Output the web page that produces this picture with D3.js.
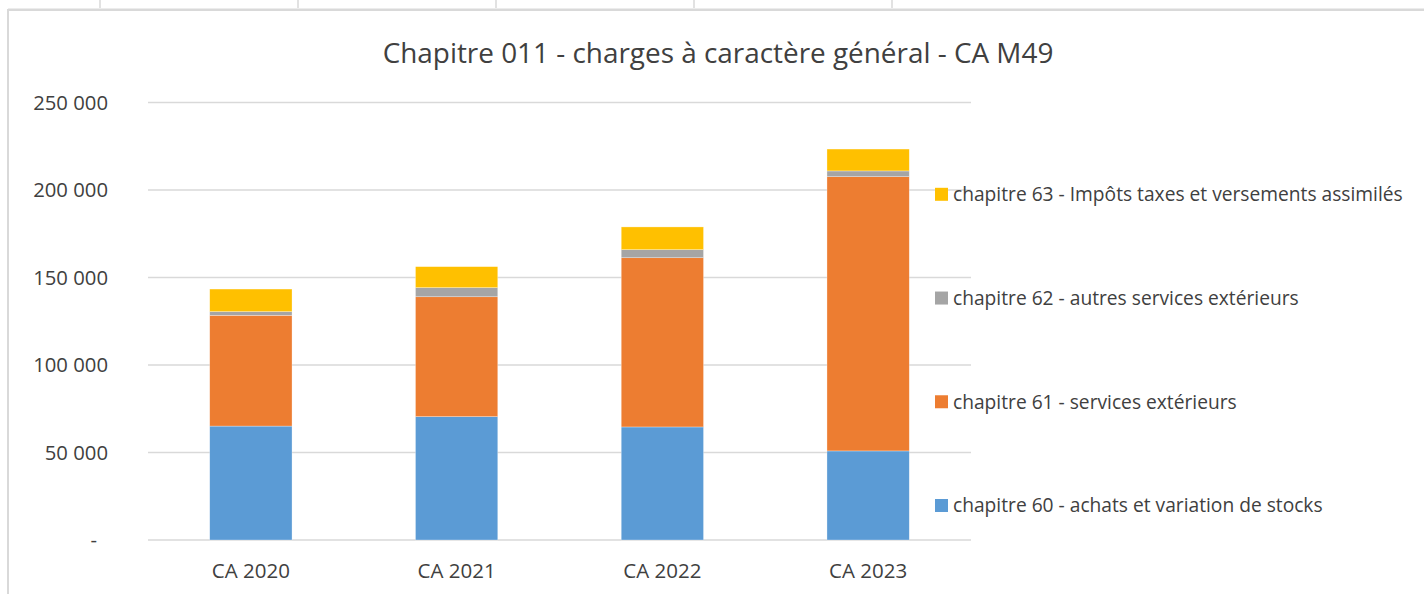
<!DOCTYPE html>
<html>
<head>
<meta charset="utf-8">
<script src="https://cdn.jsdelivr.net/npm/d3@7"></script>
<style>
  body { margin: 0; background: #fff; }
  svg { display: block; font-family: "Open Sans", sans-serif; }
</style>
</head>
<body>
<svg id="chart" width="1424" height="594"></svg>
<script>

// data
var categories = ["CA 2020", "CA 2021", "CA 2022", "CA 2023"];
var ch60 = [65100, 70500, 64600, 50900];
var ch61 = [63300, 68500, 96700, 156700];
var ch62 = [2100, 5200, 4600, 3300];
var ch63 = [12900, 12000, 13000, 12500];
var seriesNames = ["chapitre 60 - achats et variation de stocks",
                   "chapitre 61 - services extérieurs",
                   "chapitre 62 - autres services extérieurs",
                   "chapitre 63 - Impôts taxes et versements assimilés"];
var seriesColors = ["#5b9bd5", "#ed7d31", "#a5a5a5", "#ffc000"];
var yTicks = [0, 50000, 100000, 150000, 200000, 250000];
var title = "Chapitre 011 - charges à caractère général - CA M49";

var svg = d3.select("#chart"),
    width = +svg.attr("width"),
    height = +svg.attr("height"),
    plot = {left: 148, right: 971, top: 102.5, bottom: 540},
    textColor = "#404040",
    gridColor = "#d9d9d9";

// spreadsheet cell lines behind the chart
var sheet = svg.append("g").attr("stroke", gridColor);
sheet.selectAll("line.col")
    .data([100, 298, 496, 694, 892])
  .enter().append("line")
    .attr("x1", function(d) { return d; })
    .attr("x2", function(d) { return d; })
    .attr("y1", 0).attr("y2", 8)
    .attr("stroke-width", 1.5);
sheet.append("line")
    .attr("x1", 8).attr("x2", width)
    .attr("y1", 9.8).attr("y2", 9.8)
    .attr("stroke-width", 2.5);
sheet.append("line")
    .attr("x1", 8).attr("x2", 8)
    .attr("y1", 9).attr("y2", height)
    .attr("stroke-width", 2);

// build table for stack
var table = categories.map(function(c, i) {
  return {cat: c, s0: ch60[i], s1: ch61[i], s2: ch62[i], s3: ch63[i]};
});
var keys = ["s0", "s1", "s2", "s3"];
var stacked = d3.stack().keys(keys)(table);

var x = d3.scaleBand()
    .domain(categories)
    .range([plot.left, plot.right])
    .paddingInner(0.6)
    .paddingOuter(0.3);

var y = d3.scaleLinear()
    .domain([0, 250000])
    .range([plot.bottom, plot.top]);

var color = d3.scaleOrdinal().domain(keys).range(seriesColors);

// gridlines
svg.append("g")
  .selectAll("line")
  .data(yTicks)
  .enter().append("line")
    .attr("x1", plot.left)
    .attr("x2", plot.right)
    .attr("y1", function(d) { return y(d); })
    .attr("y2", function(d) { return y(d); })
    .attr("stroke", gridColor)
    .attr("stroke-width", 1.5);

// y labels, accounting style (zero shown as a dash)
var fmt = function(d) {
  return d3.format(",")(d).replace(/,/g, " ");
};
svg.append("g")
    .attr("font-size", 20.3)
    .attr("fill", textColor)
    .attr("text-anchor", "end")
  .selectAll("text")
  .data(yTicks)
  .enter().append("text")
    .attr("x", function(d) { return d === 0 ? 97 : 108; })
    .attr("y", function(d) { return y(d); })
    .attr("dy", "0.36em")
    .text(function(d) { return d === 0 ? "-" : fmt(d); });

// stacked bars
svg.append("g")
  .selectAll("g")
  .data(stacked)
  .enter().append("g")
    .attr("fill", function(d) { return color(d.key); })
  .selectAll("rect")
  .data(function(d) { return d; })
  .enter().append("rect")
    .attr("x", function(d) { return x(d.data.cat); })
    .attr("y", function(d) { return y(d[1]); })
    .attr("height", function(d) { return y(d[0]) - y(d[1]); })
    .attr("width", x.bandwidth())
    .attr("stroke", "#fff")
    .attr("stroke-opacity", 0.5)
    .attr("stroke-width", 0.6);

// x labels
svg.append("g")
    .attr("font-size", 20.5)
    .attr("fill", textColor)
    .attr("text-anchor", "middle")
  .selectAll("text")
  .data(categories)
  .enter().append("text")
    .attr("x", function(d) { return x(d) + x.bandwidth() / 2; })
    .attr("y", 578)
    .text(function(d) { return d; });

// title
svg.append("text")
    .attr("x", (383 + 1053) / 2)
    .attr("y", 63)
    .attr("text-anchor", "middle")
    .attr("font-size", 27.9)
    .attr("fill", textColor)
    .text(title);

// legend, top series first
var legendY = d3.scalePoint()
    .domain(keys.slice().reverse())
    .range([194.3, 505.5]);

var legend = svg.append("g")
    .attr("font-size", 19.2)
    .attr("fill", textColor)
  .selectAll("g")
  .data(keys.slice().reverse())
  .enter().append("g")
    .attr("transform", function(d) { return "translate(935," + legendY(d) + ")"; });

legend.append("rect")
    .attr("x", 0)
    .attr("y", -6.5)
    .attr("width", 13)
    .attr("height", 13)
    .attr("fill", function(d) { return color(d); });

legend.append("text")
    .attr("x", 18)
    .attr("dy", "0.35em")
    .text(function(d) { return seriesNames[keys.indexOf(d)]; });

</script>
</body>
</html>
